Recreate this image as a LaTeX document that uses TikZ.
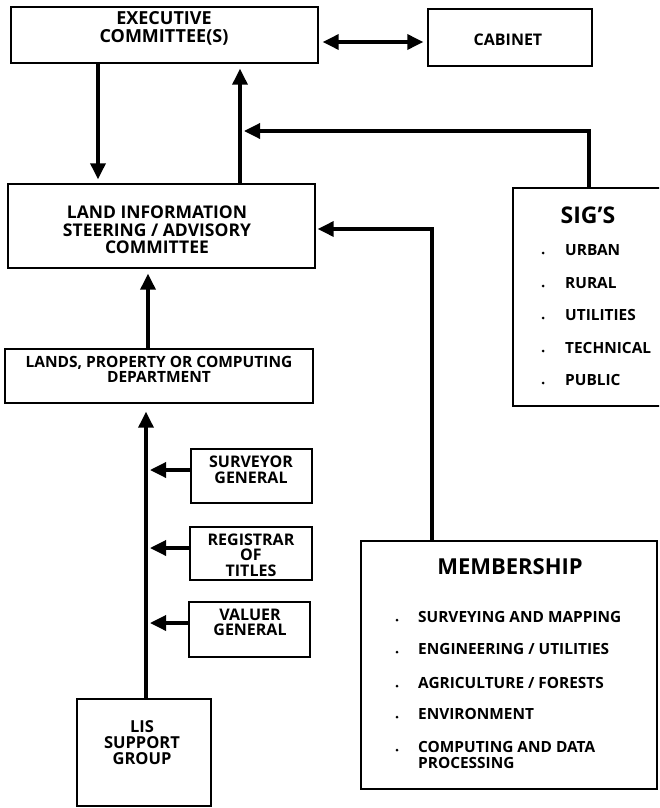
\documentclass[tikz,border=0pt]{standalone}
\usepackage{fontspec}
\setmainfont{Open Sans}
\usetikzlibrary{arrows.meta}
\tikzset{
  box/.style={draw, line width=1.4pt, rectangle, inner sep=0pt},
  lbl/.style 2 args={inner sep=0pt, align=center, font=\bfseries\fontsize{#1}{#2}\selectfont},
  item/.style={anchor=west, inner sep=0pt, text height=11pt, text depth=0pt,
               font=\bfseries\fontsize{15.4}{16}\selectfont},
  flow/.style={line width=3.4pt, -{Triangle[length=16pt,width=15pt]}},
  both/.style={line width=3.4pt, {Triangle[length=16pt,width=15pt]}-{Triangle[length=16pt,width=15pt]}},
  bullet/.style={fill=black}
}
\begin{document}
\begin{tikzpicture}[x=1pt,y=-1pt]
\useasboundingbox (0,0) rectangle (659,808);
\clip (0,0) rectangle (659,808);

% boxes
\node[box, minimum width=307pt, minimum height=56pt]  (exec)  at (164.5,35)  {};
\node[box, minimum width=164pt, minimum height=57pt]  (cab)   at (510,37.5)  {};
\node[box, minimum width=307pt, minimum height=84pt]  (lisc)  at (161.5,226) {};
\node[box, minimum width=187pt, minimum height=218pt] (sig)   at (606.5,297) {};
\node[box, minimum width=308pt, minimum height=54pt]  (lands) at (159,376)   {};
\node[box, minimum width=121pt, minimum height=54pt]  (surv)  at (251.5,476) {};
\node[box, minimum width=122pt, minimum height=53pt]  (reg)   at (251,553.5) {};
\node[box, minimum width=121pt, minimum height=55pt]  (val)   at (249.5,629.5) {};
\node[box, minimum width=134pt, minimum height=107pt] (lis)   at (144,752.5) {};
\node[box, minimum width=296pt, minimum height=248pt] (mem)   at (509,665)   {};

% box labels
\node[lbl={18}{17.5}] (execT)  at (164,28.5) {EXECUTIVE\\COMMITTEE(S)};
\node[lbl={16}{16}]   (cabT)   at (508,40)   {CABINET};
\node[lbl={17.5}{17.5}] (liscT) at (157,230) {LAND INFORMATION\\STEERING / ADVISORY\\COMMITTEE};
\node[lbl={15.5}{15.5}] (landsT) at (159,369.5) {LANDS, PROPERTY OR COMPUTING\\DEPARTMENT};
\node[lbl={16}{16}]   (survT)  at (251,470)  {SURVEYOR\\GENERAL};
\node[lbl={16}{15.5}] (regT)   at (251,555)  {REGISTRAR\\OF\\TITLES};
\node[lbl={16}{15.5}] (valT)   at (250,622.5) {VALUER\\GENERAL};
\node[lbl={16.5}{16}] (lisT)   at (142,743)  {LIS\\SUPPORT\\GROUP};

% SIG's list
\node[lbl={23}{23}] (sigT) at (588,215) {SIG'S};
\node[item] (sig1) at (565,250) {URBAN};
\node[item] (sig2) at (565,283) {RURAL};
\node[item] (sig3) at (565,315) {UTILITIES};
\node[item] (sig4) at (565,348) {TECHNICAL};
\node[item] (sig5) at (565,380) {PUBLIC};
\foreach \yy in {250,283,315,348,380} \fill[bullet] (543,\yy+3) circle (1.5pt);

% membership list
\node[lbl={22}{22}] (memT) at (510,567) {MEMBERSHIP};
\node[item] (mem1) at (418,617) {SURVEYING AND MAPPING};
\node[item] (mem2) at (418,649) {ENGINEERING / UTILITIES};
\node[item] (mem3) at (418,683) {AGRICULTURE / FORESTS};
\node[item] (mem4) at (418,714) {ENVIRONMENT};
\node[item] (mem5) at (418,747) {COMPUTING AND DATA};
\node[item] (mem5b) at (418,763) {PROCESSING};
\foreach \yy in {617,649,683,714,747} \fill[bullet] (397,\yy+3) circle (1.5pt);

% connector guide points
\coordinate (hCab)   at (0,42);
\coordinate (cDn)    at (98,0);
\coordinate (cUp)    at (240,0);
\coordinate (cSig)   at (589,0);
\coordinate (jSig)   at (240,131);
\coordinate (cMem)   at (432,0);
\coordinate (jMem)   at (0,229);
\coordinate (cLand)  at (148,0);
\coordinate (cTrunk) at (146,0);
\coordinate (tSurv)  at (146,470);
\coordinate (tReg)   at (146,548);
\coordinate (tVal)   at (146,623);

% connectors
\draw[both, shorten <=4pt, shorten >=4pt] (exec.east |- hCab) -- (cab.west |- hCab);
\draw[flow, shorten >=4pt] (exec.south -| cDn) -- (lisc.north -| cDn);
\draw[flow, shorten >=5pt] (lisc.north -| cUp) -- (exec.south -| cUp);
\draw[flow, shorten >=4pt] (sig.north -| cSig) |- (jSig);
\draw[flow, shorten >=2pt] (mem.north -| cMem) |- (lisc.east |- jMem);
\draw[flow, shorten >=5pt] (lands.north -| cLand) -- (lisc.south -| cLand);
\draw[flow, shorten >=8pt] (lis.north -| cTrunk) -- (lands.south -| cTrunk);
\draw[flow, shorten >=4pt] (surv.west |- tSurv) -- (tSurv);
\draw[flow, shorten >=4pt] (reg.west |- tReg) -- (tReg);
\draw[flow, shorten >=4pt] (val.west |- tVal) -- (tVal);
\end{tikzpicture}
\end{document}
